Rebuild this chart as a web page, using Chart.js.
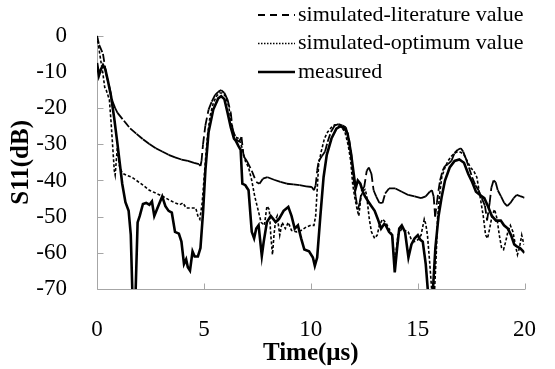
<!DOCTYPE html>
<html><head><meta charset="utf-8">
<script src="https://cdn.jsdelivr.net/npm/chart.js@4/dist/chart.umd.min.js"></script>
<style>html,body{margin:0;padding:0;background:#fff}#wrap{width:555px;height:369px;position:relative}</style>
</head><body><div id="wrap"><canvas id="c"></canvas></div>
<script>
const seriesNames = ['simulated-literature value', 'simulated-optimum value', 'measured'];
const xTickValues = [0, 5, 10, 15, 20];
const yTickValues = [0, -10, -20, -30, -40, -50, -60, -70];
const xTitle = 'Time(μs)';
const yTitle = 'S11(dB)';

const literatureX = [0,0.1,0.28,0.43,0.58,0.73,0.85,0.96,1.26,1.55,1.85,2.15,2.45,2.75,3.05,3.35,3.65,3.95,4.25,4.54,4.77,4.84,4.89,4.96,5.07,5.22,5.37,5.52,5.67,5.81,5.96,6.11,6.26,6.34,6.49,6.64,6.76,6.86,7.01,7.24,7.45,7.6,7.76,7.98,8.28,8.58,8.88,9.18,9.48,9.78,10.05,10.15,10.23,10.3,10.37,10.52,10.67,10.79,10.94,11.12,11.3,11.49,11.64,11.79,11.9,11.99,12.1,12.2,12.29,12.39,12.5,12.62,12.72,12.84,12.94,13.06,13.21,13.36,13.48,13.66,13.96,14.26,14.56,14.86,15.16,15.38,15.57,15.67,15.75,15.82,15.9,15.98,16.05,16.17,16.28,16.42,16.58,16.73,16.88,17.02,17.13,17.25,17.4,17.55,17.7,17.85,18.0,18.15,18.25,18.37,18.45,18.55,18.65,18.75,18.9,19.05,19.19,19.34,19.49,19.64,19.79,19.94,20];
const literatureY = [0,-2.5,-5,-10.6,-14.2,-18.2,-20,-21.3,-23.5,-25.6,-27.1,-28.6,-29.9,-31.1,-32,-32.9,-33.6,-34.2,-34.6,-35.1,-35.5,-36,-34.6,-30,-24.8,-20.4,-18.2,-16.4,-15.5,-15,-15.8,-17.7,-21.3,-25.7,-28.4,-29.3,-28,-33.3,-34.6,-37.3,-40.4,-40.9,-39.5,-39.1,-39.8,-40.4,-40.9,-41.1,-41.3,-41.6,-41.8,-42.7,-41.3,-37.3,-34.6,-33.3,-32,-29.3,-26.6,-24.8,-24.4,-24.8,-25.3,-28.4,-32.9,-39.1,-44.4,-48,-46.2,-42.7,-41.8,-37.3,-36.4,-38.2,-42.7,-44.4,-46.2,-46.2,-43.6,-42.2,-42.2,-43.1,-44,-44.4,-44.9,-44.4,-43.1,-42.7,-44.4,-50,-46.2,-42.7,-40,-37.3,-36,-35.5,-34.6,-32.4,-31.5,-31.1,-32,-33.8,-36.4,-39.1,-41.3,-42.7,-44.9,-47,-51,-46.2,-42,-40,-40.5,-42.7,-44.4,-46.2,-47.1,-46.2,-44.9,-44,-44.3,-44.6,-44.8];

const optimumX = [0,0.09,0.18,0.28,0.36,0.43,0.58,0.66,0.73,0.81,0.85,0.95,1.05,1.15,1.26,1.4,1.63,1.85,2.15,2.45,2.75,3.05,3.35,3.65,3.87,4.02,4.17,4.4,4.62,4.72,4.81,4.92,4.99,5.07,5.17,5.29,5.44,5.59,5.74,5.86,6.01,6.16,6.26,6.37,6.49,6.64,6.79,6.94,7.09,7.24,7.38,7.53,7.68,7.83,7.95,8.06,8.13,8.21,8.28,8.36,8.43,8.55,8.66,8.81,8.95,9.1,9.33,9.55,9.78,10.0,10.15,10.23,10.3,10.37,10.49,10.64,10.79,10.97,11.12,11.27,11.45,11.6,11.75,11.87,11.96,12.05,12.17,12.25,12.35,12.47,12.55,12.62,12.74,12.84,12.99,13.11,13.21,13.36,13.51,13.66,13.81,13.93,14.08,14.26,14.41,14.56,14.71,14.86,15.01,15.16,15.31,15.38,15.46,15.57,15.68,15.78,15.87,15.93,16.02,16.13,16.28,16.42,16.58,16.73,16.88,17.02,17.17,17.32,17.47,17.62,17.77,17.92,18.07,18.18,18.27,18.37,18.48,18.6,18.72,18.82,18.93,19.02,19.12,19.22,19.34,19.46,19.57,19.67,19.76,19.87,19.97];
const optimumY = [0,-3.5,-7,-10.6,-14.2,-15,-17.7,-24,-30.2,-37.3,-38.5,-31,-36,-37.5,-38.2,-38.6,-39.1,-40,-41.3,-42.7,-43.5,-44.3,-45.3,-46.2,-46.7,-46.2,-47.6,-47.6,-47.6,-49.8,-50.7,-46.2,-40.9,-34.6,-27.5,-22.2,-18.6,-16.7,-15.8,-15.8,-16.7,-19.5,-23.1,-26.6,-28,-28.4,-31,-34.6,-36.4,-40,-44.4,-48,-51.6,-52.4,-47.1,-48,-55.1,-60.5,-55.1,-50.7,-49.8,-55.1,-51.6,-53.3,-51.6,-53.8,-54.2,-53.8,-52.9,-52.4,-52.4,-49.8,-42.7,-35.5,-32,-28.4,-26.6,-25.3,-24.6,-24.8,-25.3,-26.6,-30.2,-34.6,-40.9,-44.4,-48,-49.8,-44.4,-42.7,-42.5,-44.4,-50.7,-54.2,-56,-55.1,-52.4,-50.7,-51.6,-53.3,-55.1,-63,-55.1,-53.3,-53.8,-54.2,-56.4,-56.9,-56.4,-55.1,-50.7,-52,-55.1,-63.1,-72,-72,-60.5,-50.7,-44.4,-39.1,-36.4,-34.6,-33.3,-32.4,-32,-32.2,-32.9,-34.6,-36.4,-37.3,-39.1,-44.4,-49.8,-55.1,-56,-53.3,-49.8,-48,-50.7,-55.1,-58.7,-59.1,-56.9,-54.2,-52.4,-54.2,-57.7,-60.5,-58.7,-55.1,-57.7];

const measuredX = [0,0.09,0.18,0.28,0.39,0.51,0.66,0.81,0.96,1.18,1.33,1.48,1.58,1.66,1.8,1.9,2.0,2.15,2.3,2.45,2.57,2.68,2.83,3.05,3.2,3.35,3.5,3.65,3.83,3.95,4.07,4.17,4.25,4.35,4.47,4.57,4.72,4.84,4.96,5.07,5.22,5.44,5.67,5.81,5.96,6.11,6.26,6.41,6.49,6.62,6.72,6.8,6.94,7.09,7.24,7.35,7.45,7.56,7.71,7.8,7.95,8.13,8.36,8.51,8.73,8.95,9.1,9.25,9.4,9.55,9.7,9.92,10.1,10.19,10.3,10.45,10.6,10.75,10.97,11.2,11.39,11.57,11.72,11.87,11.99,12.1,12.2,12.32,12.44,12.54,12.69,12.84,12.99,13.14,13.29,13.44,13.51,13.66,13.81,13.93,14.04,14.14,14.26,14.41,14.57,14.71,14.86,15.01,15.13,15.24,15.38,15.5,15.7,15.83,15.98,16.13,16.28,16.5,16.73,16.95,17.17,17.37,17.55,17.73,17.92,18.12,18.29,18.47,18.67,18.89,19.04,19.22,19.37,19.52,19.64,19.79,19.94,20];
const measuredY = [-7.5,-11,-9.3,-8.1,-9.3,-12.4,-16.8,-23,-30,-40.9,-46,-48.4,-55,-72,-72,-51.6,-49.8,-46.5,-46.2,-46.7,-45.8,-49.8,-47.6,-44.4,-47.1,-48.4,-48.9,-54.2,-54.7,-56.9,-63.1,-61.8,-64,-64.9,-59.6,-61,-61,-58.7,-48.9,-37.3,-26.6,-20.4,-17.3,-16.7,-17.5,-21.3,-25.3,-28.4,-29,-30.5,-31.5,-40.9,-41.3,-42.7,-54.2,-56,-53.3,-52.4,-60.9,-56.9,-51.5,-49.8,-51.5,-50.7,-48.4,-47.3,-49.8,-53.3,-52.4,-56,-59.1,-59.6,-61.3,-63.6,-61.3,-49.8,-39.1,-32.9,-28.4,-25.7,-25,-25.5,-27,-32,-37.3,-42.2,-40,-40.9,-43.1,-44.4,-45.8,-47.1,-48.4,-50.7,-53.3,-52,-52.4,-54.2,-55.1,-65.4,-58.7,-53.3,-52.4,-54.2,-61.3,-57.7,-56,-55.1,-56.4,-56.9,-63.1,-72,-72,-58.7,-49.8,-44.4,-40,-36.4,-34.6,-34.2,-35.1,-38.2,-40.4,-43.1,-44,-44.9,-47.1,-49.8,-51.1,-51.1,-52.4,-53.3,-55.1,-57.7,-58.2,-58.7,-59.6,-60];

const zip = (xs, ys) => xs.map((x, i) => ({x, y: ys[i]}));
const serif = "'Liberation Serif', 'Times New Roman', serif";
const legendDash = [[7, 5], [1.5, 1.5], []];

const axisPlugin = {
  id: 'axisTicks',
  beforeDatasetsDraw(chart) {
    const {ctx, chartArea: a, scales: {x, y}} = chart;
    ctx.save();
    ctx.strokeStyle = '#a6a6a6';
    ctx.lineWidth = 1;
    ctx.beginPath();
    const L = Math.round(a.left) + 0.5, B = Math.round(a.bottom) + 0.5;
    ctx.moveTo(L, a.top); ctx.lineTo(L, B); ctx.lineTo(a.right + 0.5, B);
    xTickValues.forEach(v => { const px = Math.round(x.getPixelForValue(v)) + 0.5; ctx.moveTo(px, B); ctx.lineTo(px, B - 6); });
    yTickValues.forEach(v => { const py = Math.round(y.getPixelForValue(v)) + 0.5; ctx.moveTo(L, py); ctx.lineTo(L + 6, py); });
    ctx.stroke();
    ctx.restore();
  }
};

const legendPlugin = {
  id: 'customLegend',
  afterDraw(chart) {
    const ctx = chart.ctx;
    ctx.save();
    seriesNames.forEach((name, i) => {
      const ds = chart.data.datasets[i];
      const yc = 15 + 28.5 * i;
      ctx.beginPath();
      ctx.setLineDash(legendDash[i]);
      ctx.lineWidth = ds.borderWidth;
      ctx.strokeStyle = '#000';
      ctx.moveTo(258, yc); ctx.lineTo(295, yc);
      ctx.stroke();
      ctx.setLineDash([]);
      ctx.fillStyle = '#000';
      ctx.font = '22px ' + serif;
      ctx.textBaseline = 'middle';
      ctx.textAlign = 'left';
      ctx.fillText(name, 298, yc);
    });
    ctx.restore();
  }
};

new Chart(document.getElementById('c'), {
  type: 'line',
  data: {
    datasets: [
      {label: seriesNames[0], data: zip(literatureX, literatureY), borderColor: '#000', borderWidth: 1.8,
       borderDash: [8, 4], pointRadius: 0, tension: 0,
       segment: {borderDashOffset: c => (c.p0DataIndex % 2 ? 0.001 : 0)}},
      {label: seriesNames[1], data: zip(optimumX, optimumY), borderColor: '#000', borderWidth: 1.6,
       borderDash: [3, 2], pointRadius: 0, tension: 0},
      {label: seriesNames[2], data: zip(measuredX, measuredY), borderColor: '#000', borderWidth: 2.6,
       pointRadius: 0, tension: 0}
    ]
  },
  options: {
    responsive: true, maintainAspectRatio: false, animation: false, events: [],
    layout: {padding: {left: 0, right: 12, top: 27, bottom: 0}},
    plugins: {legend: {display: false}, tooltip: {enabled: false}},
    scales: {
      x: {
        type: 'linear', min: 0, max: 20,
        grid: {display: false}, border: {display: false},
        ticks: {stepSize: 5, color: '#000', font: {family: serif, size: 23}, padding: 19, maxRotation: 0, autoSkip: false},
        title: {display: true, text: xTitle, color: '#000', font: {family: serif, size: 25, weight: 'bold'}, padding: {top: 0, bottom: 0}},
        afterFit: s => { s.height = 80; }
      },
      y: {
        type: 'linear', min: -70, max: 0,
        grid: {display: false}, border: {display: false},
        ticks: {stepSize: 10, color: '#000', font: {family: serif, size: 23}, padding: 22},
        title: {display: true, text: yTitle, color: '#000', font: {family: serif, size: 25, weight: 'bold'}, padding: {top: 7, bottom: 0}},
        afterFit: s => { s.width = 97; }
      }
    }
  },
  plugins: [axisPlugin, legendPlugin]
});
</script>
</body></html>
